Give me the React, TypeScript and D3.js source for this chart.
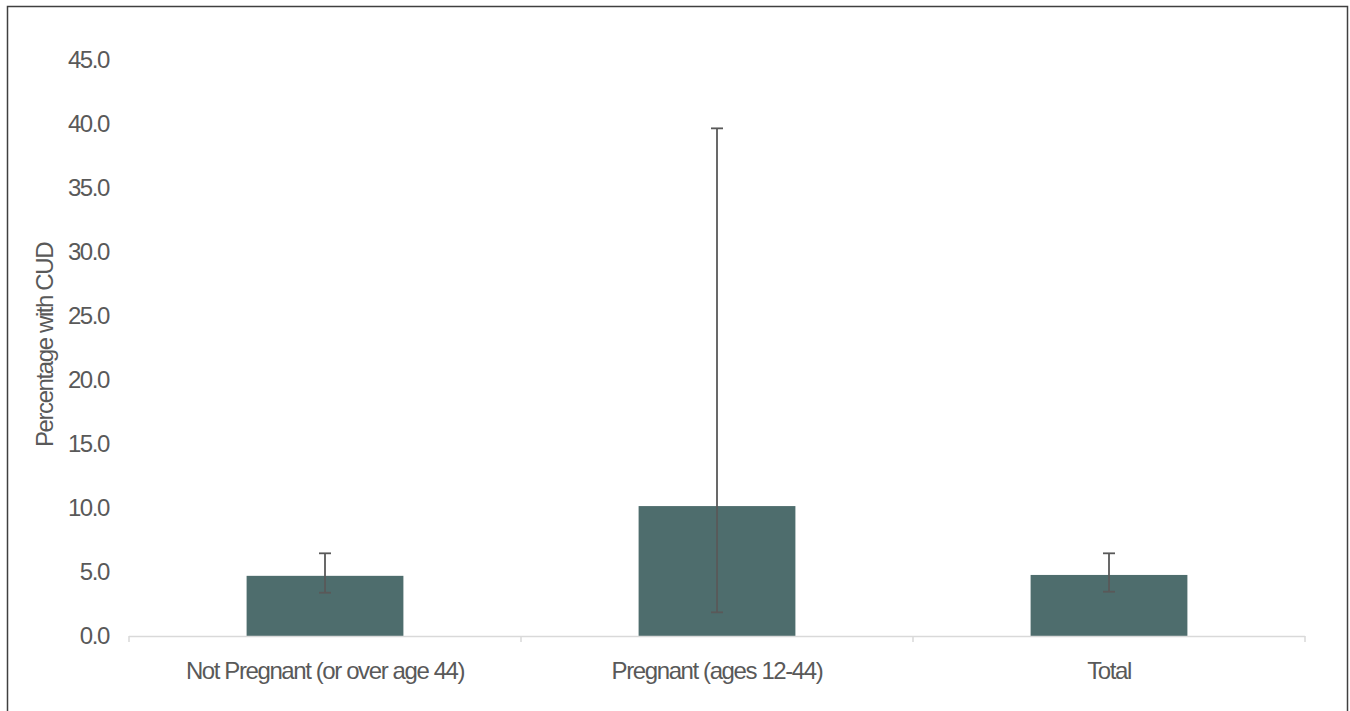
import React from "react";
import * as d3 from "d3";

const categories = ["Not Pregnant (or over age 44)", "Pregnant (ages 12-44)", "Total"];
const values = [4.7, 10.15, 4.77];
const errLow = [3.38, 1.85, 3.46];
const errHigh = [6.46, 39.66, 6.46];
const yTicks = [0, 5, 10, 15, 20, 25, 30, 35, 40, 45];

export default function App() {
  const W = 1350, H = 711;
  const left = 129, right = 1305, top = 60, bottom = 636;
  const x = d3.scaleBand<string>().domain(categories).range([left, right]).paddingInner(0).paddingOuter(0);
  const y = d3.scaleLinear().domain([0, 45]).range([bottom, top]);
  const bw = x.bandwidth();
  const barW = bw * 0.4;
  const font = "'Liberation Sans', Arial, sans-serif";
  const txt = "#595959";
  const fs = 24;
  const ls = -1.4;
  const edges = [...categories.map((c) => x(c)!), right];
  return (
    <svg width={W} height={H} style={{ position: "absolute", left: 0, top: 0 }} fontFamily={font}>
      <rect x={0} y={0} width={W} height={H} fill="#fff" />
      <rect x={7.5} y={6.5} width={1340} height={720} fill="none" stroke="#404040" strokeWidth={1.5} />
      {yTicks.map((t) => (
        <text key={t} x={109} y={y(t)} dy="0.35em" textAnchor="end" fontSize={fs} fill={txt} letterSpacing={ls}>
          {t.toFixed(1)}
        </text>
      ))}
      <text
        transform={`translate(53,${(top + bottom) / 2 - 3}) rotate(-90)`}
        textAnchor="middle"
        fontSize={fs}
        fill={txt}
        letterSpacing={ls}
      >
        Percentage with CUD
      </text>
      {categories.map((c, i) => {
        const cx = x(c)! + bw / 2;
        return (
          <g key={c}>
            <rect x={cx - barW / 2} y={y(values[i])} width={barW} height={bottom - y(values[i])} fill="#4E6D6D" />
          </g>
        );
      })}
      <line x1={left} x2={right} y1={bottom + 0.5} y2={bottom + 0.5} stroke="#d9d9d9" strokeWidth={1.5} />
      {edges.map((e, i) => (
        <line key={i} x1={e} x2={e} y1={bottom} y2={bottom + 6} stroke="#d9d9d9" strokeWidth={1.5} />
      ))}
      {categories.map((c, i) => {
        const cx = x(c)! + bw / 2;
        return (
          <g key={c + "e"} stroke="#595959" strokeWidth={1.8}>
            <line x1={cx} x2={cx} y1={y(errLow[i])} y2={y(errHigh[i])} />
            <line x1={cx - 6} x2={cx + 6} y1={y(errLow[i])} y2={y(errLow[i])} />
            <line x1={cx - 6} x2={cx + 6} y1={y(errHigh[i])} y2={y(errHigh[i])} />
          </g>
        );
      })}
      {categories.map((c) => (
        <text key={c + "l"} x={x(c)! + bw / 2} y={679} textAnchor="middle" fontSize={fs} fill={txt} letterSpacing={ls}>
          {c}
        </text>
      ))}
    </svg>
  );
}
